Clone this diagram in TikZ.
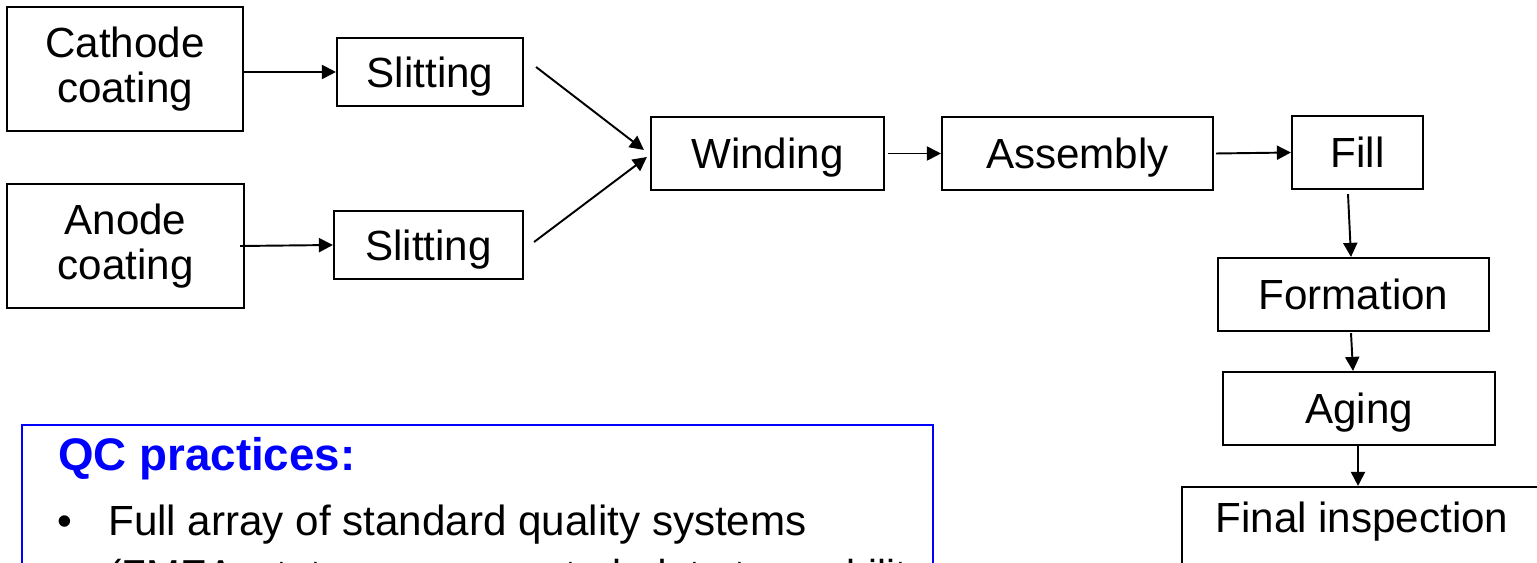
\documentclass[tikz,border=0pt]{standalone}
\usepackage{fontspec}
\setmainfont{Liberation Sans}
\usetikzlibrary{arrows.meta,calc}
\definecolor{qcblue}{RGB}{0,0,255}
\begin{document}
\begin{tikzpicture}[x=0.02cm,y=-0.02cm,
  box/.style={draw=black,line width=1.2pt,inner sep=0pt,font=\fontsize{24}{25.5}\selectfont,text height=17.6pt,text depth=0pt},
  box2/.style={draw=black,line width=1.2pt,inner sep=0pt,align=center,font=\fontsize{24}{25.5}\selectfont},
  conn/.style={line width=1.1pt,-{Triangle[length=8pt,width=8pt]}},
  txt/.style={anchor=base west,inner sep=0pt,font=\fontsize{24}{28}\selectfont},
]
\useasboundingbox (0,0) rectangle (1537,563);
% process boxes
\node[box2,minimum width=236*0.02cm,minimum height=124*0.02cm] (cath) at (125,69) {Cathode\\coating};
\node[box2,minimum width=237*0.02cm,minimum height=124*0.02cm] (anode) at (125.5,246) {Anode\\coating};
\node[box,minimum width=186*0.02cm,minimum height=68*0.02cm] (slit1) at (430,72) {Slitting};
\node[box,minimum width=189*0.02cm,minimum height=68*0.02cm] (slit2) at (428.5,245) {Slitting};
\node[box,minimum width=233*0.02cm,minimum height=73*0.02cm] (wind) at (767.5,153.5) {Winding};
\node[box,minimum width=271*0.02cm,minimum height=73*0.02cm] (asm) at (1077.5,153.5) {Assembly};
\node[box,minimum width=131*0.02cm,minimum height=73*0.02cm] (fill) at (1357.5,152.5) {Fill};
\node[box,minimum width=271*0.02cm,minimum height=73*0.02cm] (form) at (1353.5,294.5) {Formation};
\node[box,minimum width=272*0.02cm,minimum height=73*0.02cm] (aging) at (1359,408.5) {Aging};
\node[box,minimum width=360*0.02cm,minimum height=80*0.02cm,text height=6.8pt] (final) at (1362,527) {Final inspection};
% connectors
\draw[conn] (cath.east |- slit1.west) -- (slit1.west);
\draw[conn] ($(anode.east)+(-5,0)$) -- (slit2.west);
\draw[conn] ($(slit1.east)+(12,-5)$) -- ($(wind.west)+(-6,-3.5)$);
\draw[conn] ($(slit2.east)+(10,-3)$) -- ($(wind.west)+(-3,3.5)$);
\draw[conn] ($(wind.east)+(3,0)$) -- (asm.west);
\draw[conn] ($(asm.east)+(2,0)$) -- (fill.west);
\draw[conn] ($(fill.south)+(-9.5,4)$) -- ($(form.north)+(-2.5,0)$);
\draw[conn] ($(form.south)+(-2.5,1)$) -- ($(aging.north)+(-6,0)$);
\draw[conn] ($(aging.south)+(-1,0)$) -- ($(final.north)+(-4,0)$);
% QC practices box
\node[draw=qcblue,line width=1pt,minimum width=911*0.02cm,minimum height=200*0.02cm,anchor=north west,inner sep=0pt] (qc) at (21,424) {};
\node[txt,text=qcblue,font=\bfseries\fontsize{26}{30}\selectfont] (qctitle) at (58,470) {QC practices:};
\node[txt] (bullet) at (57,535) {•};
\node[txt] (line1) at (108,535) {Full array of standard quality systems};
\node[txt,font=\fontsize{23}{28}\selectfont] (line2) at (108,588) {(FMEA, stat. process control, data traceability};
\end{tikzpicture}
\end{document}
